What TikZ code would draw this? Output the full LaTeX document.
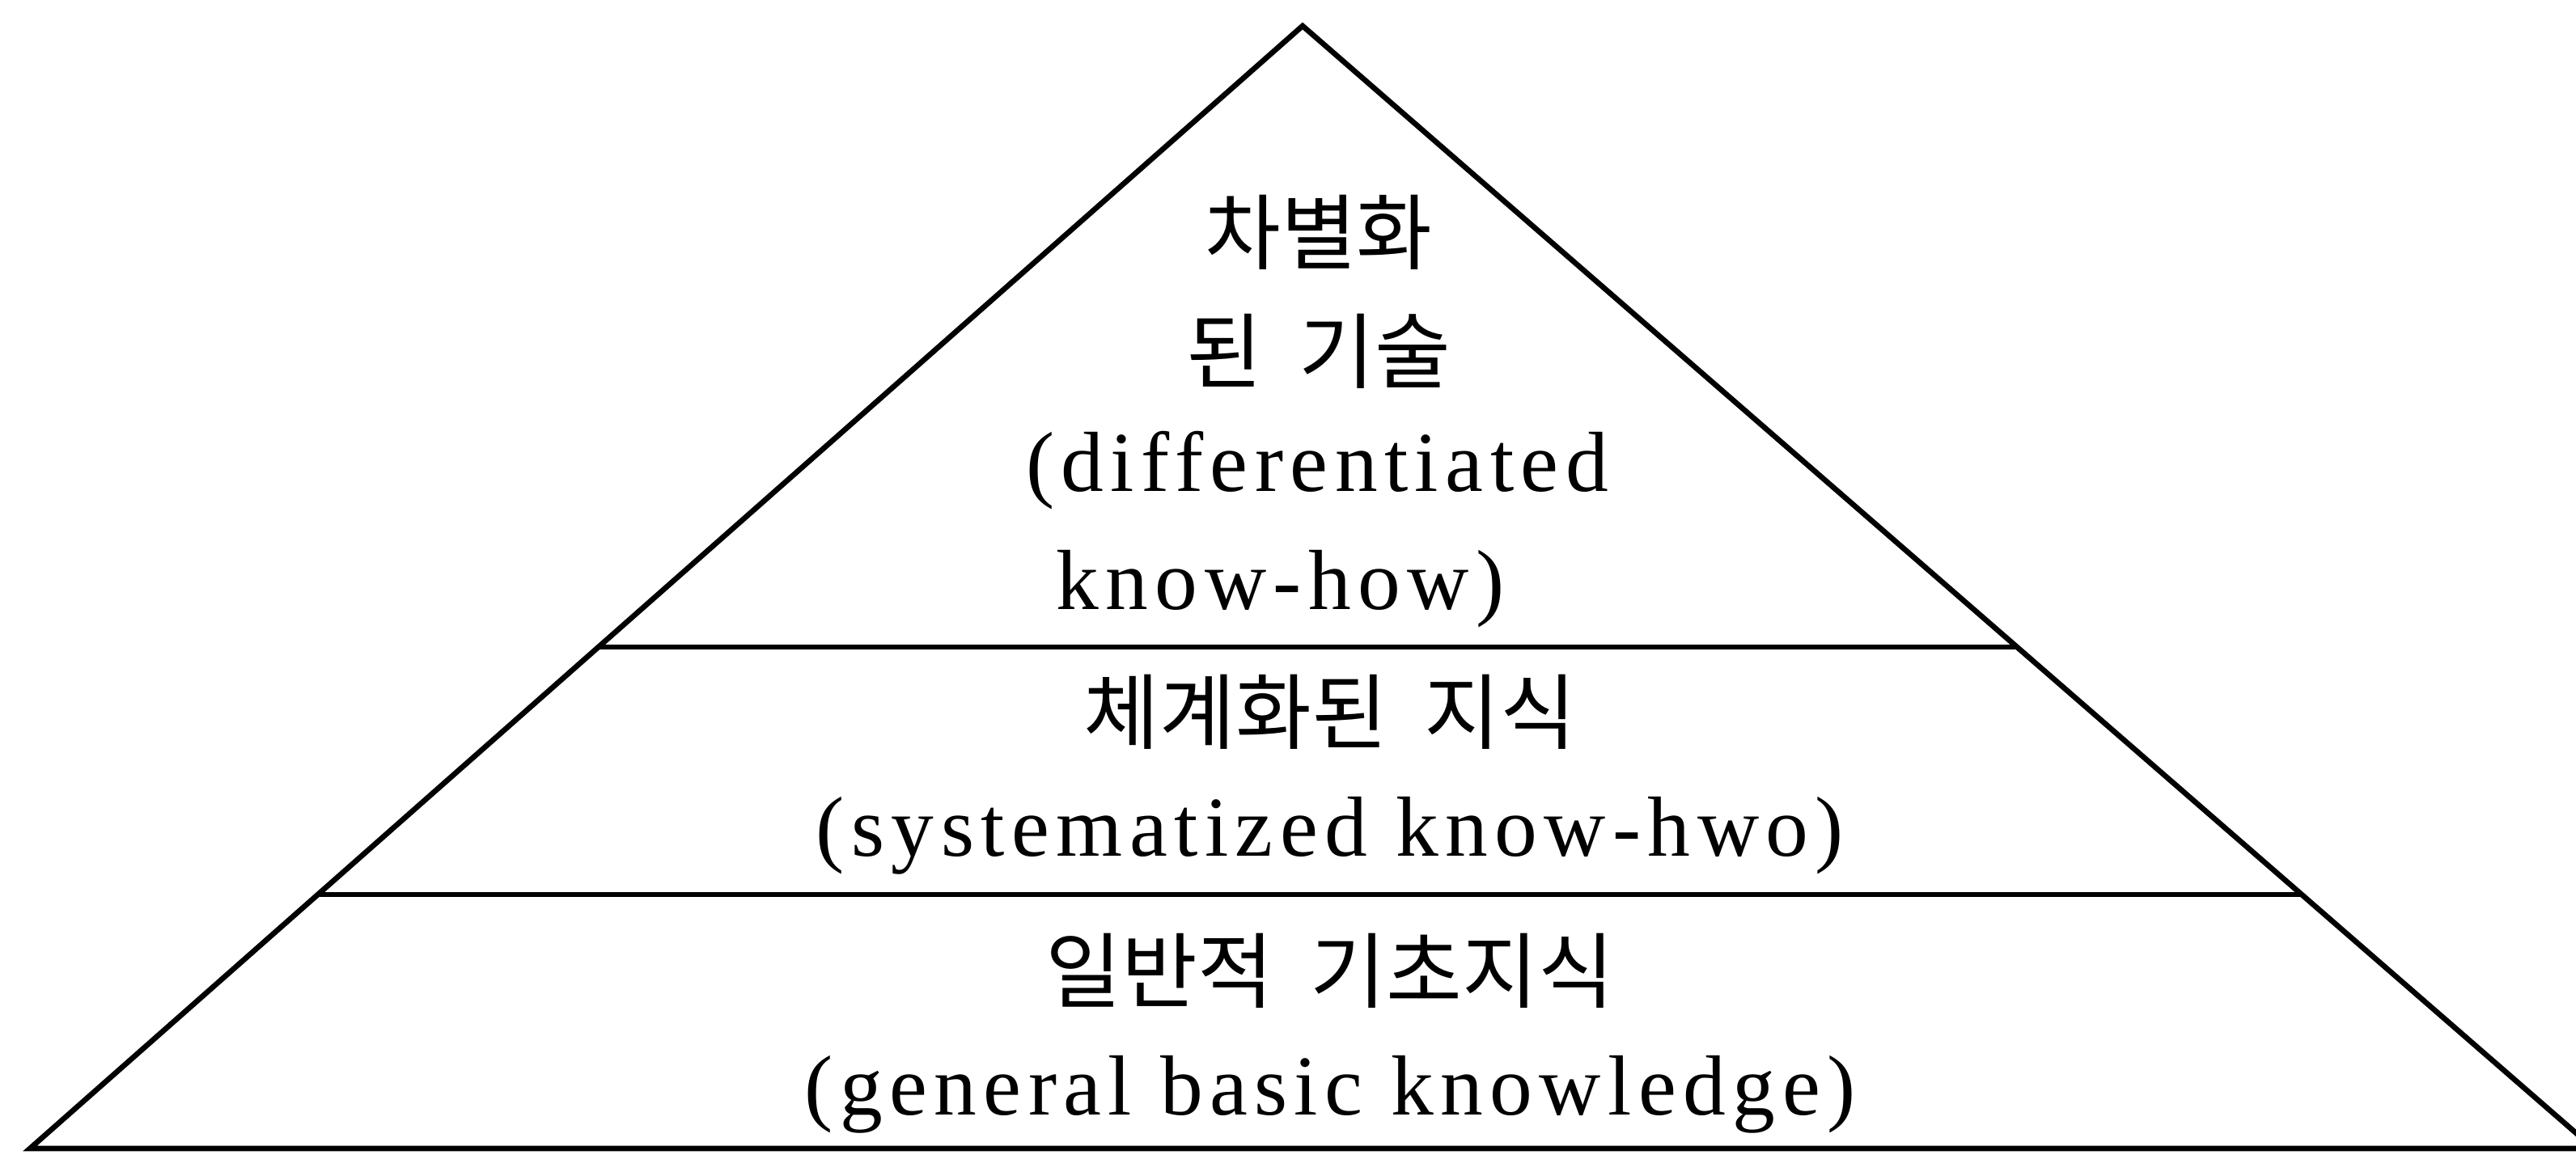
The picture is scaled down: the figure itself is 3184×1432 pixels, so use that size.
\documentclass[tikz,border=0pt]{standalone}
\usepackage{fontspec}
\setmainfont[LetterSpace=8]{Liberation Serif}
\newfontfamily\kr{Noto Sans CJK KR}
\begin{document}
\begin{tikzpicture}[x=0.01cm,y=-0.01cm,
  edge/.style={line width=1.9pt},
  en/.style={font=\fontsize{30}{30}\selectfont, inner sep=0pt, anchor=base},
  ko/.style={font=\kr\fontsize{29}{29}\selectfont, inner sep=0pt}]
\clip (0,0) rectangle (3184,1432);
\coordinate (apex) at (1610,32);
\coordinate (bl) at (37,1420);
\coordinate (br) at (3206,1420);
\coordinate (l1a) at (738,800);
\coordinate (l1b) at (2493,800);
\coordinate (l2a) at (391,1106);
\coordinate (l2b) at (2845,1106);
\draw[edge] (bl) -- (apex) -- (br) -- cycle;
\draw[edge] (l1a) -- (l1b);
\draw[edge] (l2a) -- (l2b);
\node[ko] (t1) at (1630,287) {차별화};
\node[ko] (t2) at (1630,434) {된\hspace{.45em}기술};
\node[en] (t3) at (1628,607) {(differentiated};
\node[en, anchor=base west] (t4) at (1305,753) {know-how)};
\node[ko] (m1) at (1644,880) {체계화된\hspace{.45em}지식};
\node[en] (m2) at (1644,1058) {(systematized know-hwo)};
\node[ko] (b1) at (1644,1200) {일반적\hspace{.45em}기초지식};
\node[en] (b2) at (1644,1378) {(general basic knowledge)};
\end{tikzpicture}
\end{document}
